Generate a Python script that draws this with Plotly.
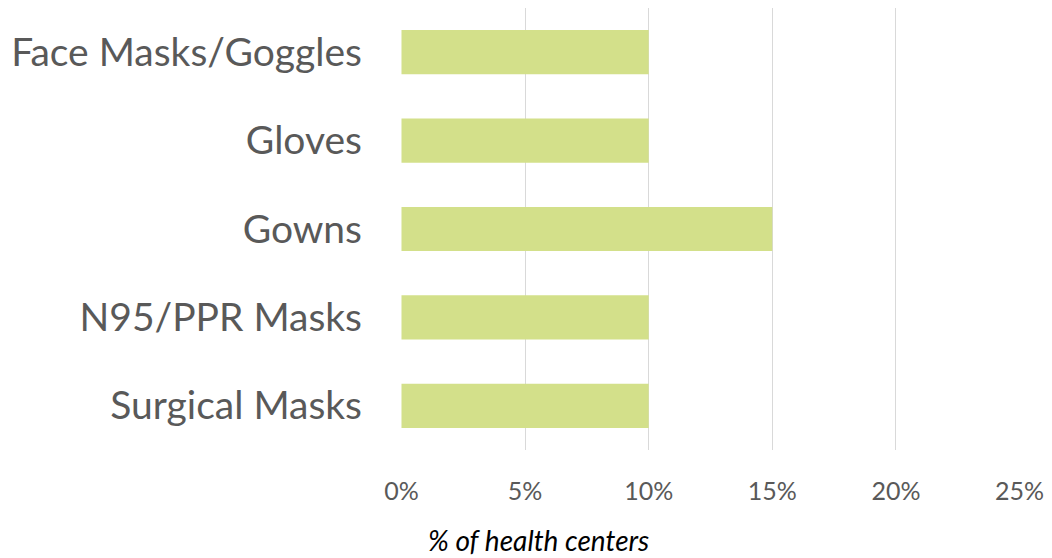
import plotly.graph_objects as go

categories = ["Face Masks/Goggles", "Gloves", "Gowns", "N95/PPR Masks", "Surgical Masks"]
values = [0.10, 0.10, 0.15, 0.10, 0.10]
tick_vals = [0, 0.05, 0.10, 0.15, 0.20, 0.25]
tick_text = ["0%", "5%", "10%", "15%", "20%", "25%"]
x_title = "% of health centers"

fig = go.Figure(
    go.Bar(
        y=categories,
        x=values,
        orientation="h",
        marker=dict(color="#D3E08A", line=dict(width=0)),
        hoverinfo="skip",
    )
)

# The page body adds an 8px margin, so the figure is sized to fill the rest of the window.
fig.update_layout(
    width=1044,
    height=550,
    margin=dict(l=393, r=32, t=0, b=108),
    paper_bgcolor="white",
    plot_bgcolor="white",
    bargap=0.5,
    showlegend=False,
    font=dict(family="Lato", color="#595959"),
)

fig.update_xaxes(
    range=[-0.0002, 0.2502],
    tickvals=tick_vals,
    ticktext=tick_text,
    showgrid=True,
    gridcolor="#D9D9D9",
    gridwidth=1,
    zeroline=False,
    showline=False,
    ticks="",
    automargin=False,
    tickfont=dict(size=25, color="#595959"),
    ticklabelstandoff=24,
)

fig.update_yaxes(
    autorange="reversed",
    showgrid=False,
    zeroline=False,
    showline=False,
    ticks="",
    automargin=False,
    tickfont=dict(size=39, color="#595959"),
    ticklabelstandoff=38,
)

# Axis title placed as in the reference (left of the plot centre, below tick labels)
fig.add_annotation(
    text="<i>" + x_title + "</i>",
    xref="paper",
    yref="paper",
    x=0.222,
    y=0,
    xanchor="center",
    yanchor="bottom",
    yshift=-108,
    borderpad=0,
    showarrow=False,
    font=dict(family="Lato", size=28, color="#000000"),
)

fig.write_html("out.html")
